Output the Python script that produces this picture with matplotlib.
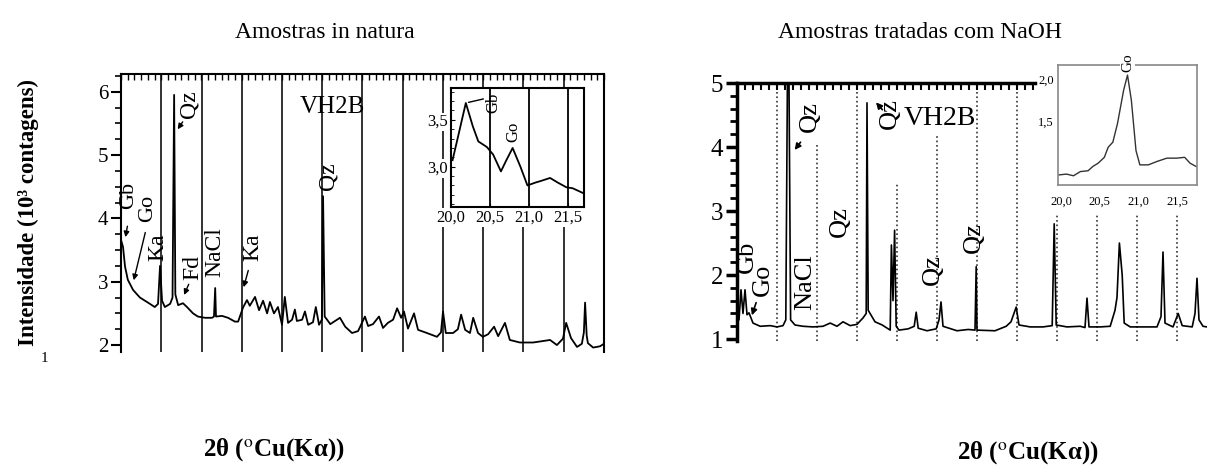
import numpy as np
import matplotlib
matplotlib.use('Agg')
import matplotlib.pyplot as plt
from matplotlib.ticker import MultipleLocator, FixedLocator

plt.rcParams['font.family'] = ['Liberation Serif', 'DejaVu Serif']
plt.rcParams['mathtext.fontset'] = 'stix'

# Amostras in natura (eixo x em divisoes da grade, y em 10^3 contagens)
x_nat = [0.00, 0.05, 0.10, 0.17, 0.30, 0.47, 0.67, 0.84, 0.92, 0.97, 1.02, 1.09, 1.22, 1.28, 1.32, 1.35,
         1.42, 1.54, 1.64, 1.79, 1.91, 2.09, 2.26, 2.31, 2.34, 2.36, 2.51, 2.66, 2.83, 2.91, 3.03, 3.13,
         3.20, 3.33, 3.43, 3.53, 3.63, 3.70, 3.80, 3.90, 4.00, 4.07, 4.15, 4.25, 4.32, 4.37, 4.50, 4.57,
         4.65, 4.77, 4.84, 4.92, 4.99, 5.02, 5.06, 5.12, 5.20, 5.27, 5.44, 5.57, 5.74, 5.89, 6.06, 6.14,
         6.26, 6.41, 6.51, 6.63, 6.76, 6.86, 6.96, 7.03, 7.13, 7.28, 7.38, 7.60, 7.85, 7.95, 8.00, 8.07,
         8.25, 8.37, 8.45, 8.55, 8.67, 8.75, 8.87, 8.99, 9.12, 9.27, 9.37, 9.54, 9.66, 9.91, 10.24, 10.66,
         10.83, 10.98, 11.06, 11.18, 11.33, 11.45, 11.50, 11.53, 11.57, 11.60, 11.73, 11.90, 12.00]
y_nat = [3.66, 3.55, 3.24, 3.03, 2.87, 2.75, 2.67, 2.60, 2.65, 3.25, 2.70, 2.60, 2.65, 2.75, 5.95, 2.80,
         2.63, 2.66, 2.60, 2.50, 2.45, 2.43, 2.43, 2.45, 2.90, 2.45, 2.46, 2.43, 2.37, 2.37, 2.59, 2.71,
         2.62, 2.76, 2.55, 2.70, 2.50, 2.68, 2.50, 2.60, 2.32, 2.76, 2.35, 2.40, 2.56, 2.38, 2.40, 2.53,
         2.32, 2.36, 2.60, 2.32, 2.40, 4.35, 2.45, 2.40, 2.33, 2.36, 2.43, 2.29, 2.19, 2.22, 2.45, 2.30,
         2.33, 2.45, 2.27, 2.35, 2.40, 2.58, 2.43, 2.53, 2.26, 2.50, 2.24, 2.19, 2.13, 2.20, 2.53, 2.19,
         2.19, 2.25, 2.48, 2.24, 2.19, 2.43, 2.19, 2.13, 2.17, 2.29, 2.14, 2.35, 2.08, 2.04, 2.04, 2.08,
         2.00, 2.10, 2.35, 2.11, 1.97, 2.02, 2.20, 2.67, 2.15, 2.03, 1.96, 1.98, 2.02]

# detalhe 20-21,7 (in natura)
x_nat_ins = [20.02, 20.09, 20.19, 20.28, 20.35, 20.46, 20.54, 20.64, 20.71, 20.79, 20.89, 20.98,
             21.08, 21.16, 21.27, 21.37, 21.48, 21.56, 21.69]
y_nat_ins = [3.07, 3.32, 3.68, 3.43, 3.27, 3.21, 3.13, 2.95, 3.07, 3.20, 3.00, 2.80,
             2.83, 2.85, 2.88, 2.83, 2.78, 2.77, 2.72]

# Amostras tratadas com NaOH
x_naoh = [0.00, 0.05, 0.10, 0.15, 0.20, 0.25, 0.30, 0.40, 0.58, 0.83, 1.00, 1.15, 1.22, 1.26, 1.30, 1.34,
          1.45, 1.65, 1.90, 2.15, 2.33, 2.50, 2.65, 2.83, 3.00, 3.15, 3.23, 3.25, 3.28, 3.45, 3.63, 3.83,
          3.86, 3.90, 3.94, 3.98, 4.05, 4.28, 4.43, 4.48, 4.53, 4.75, 4.98, 5.05, 5.10, 5.15, 5.50, 5.78,
          5.95, 5.98, 6.00, 6.45, 6.73, 6.85, 6.98, 7.05, 7.33, 7.65, 7.88, 7.93, 7.98, 8.25, 8.58, 8.70,
          8.75, 8.80, 9.08, 9.33, 9.45, 9.50, 9.56, 9.63, 9.68, 9.83, 10.15, 10.50, 10.60, 10.65, 10.70,
          10.90, 11.03, 11.13, 11.38, 11.45, 11.50, 11.55, 11.65, 11.75]
y_naoh = [1.30, 1.30, 1.77, 1.40, 1.77, 1.38, 1.41, 1.25, 1.20, 1.21, 1.19, 1.21, 1.30, 5.00, 5.00, 1.30,
          1.22, 1.20, 1.19, 1.20, 1.25, 1.20, 1.27, 1.21, 1.23, 1.33, 1.40, 4.69, 1.45, 1.27, 1.22, 1.14,
          2.47, 1.60, 2.70, 1.20, 1.14, 1.16, 1.20, 1.42, 1.17, 1.13, 1.16, 1.30, 1.58, 1.20, 1.13, 1.15,
          1.14, 2.13, 1.14, 1.13, 1.20, 1.27, 1.50, 1.22, 1.19, 1.19, 1.21, 2.80, 1.22, 1.19, 1.20, 1.18,
          1.64, 1.19, 1.19, 1.20, 1.45, 1.65, 2.50, 2.00, 1.25, 1.19, 1.19, 1.19, 1.35, 2.36, 1.25,
          1.19, 1.40, 1.21, 1.19, 1.40, 1.95, 1.30, 1.20, 1.19]

# detalhe 20-21,7 (NaOH)
x_naoh_ins = [19.97, 20.07, 20.16, 20.25, 20.35, 20.41, 20.48, 20.56, 20.61, 20.67, 20.73, 20.81, 20.86,
              20.91, 20.97, 21.02, 21.13, 21.24, 21.37, 21.50, 21.60, 21.67, 21.75]
y_naoh_ins = [0.86, 0.87, 0.85, 0.90, 0.91, 0.96, 1.00, 1.07, 1.19, 1.25, 1.47, 1.87, 2.05,
              1.75, 1.15, 0.98, 0.98, 1.02, 1.06, 1.06, 1.07, 1.00, 0.96]

ins_ticks = [20.0, 20.5, 21.0, 21.5]
ins_labels = ['20,0', '20,5', '21,0', '21,5']

# rotulos das fases: (texto, x, y, tamanho)
lab_nat = [('Gb', 0.20, 4.36, 16), ('Go', 0.66, 4.15, 16), ('Ka', 0.92, 3.54, 17), ('Qz', 1.69, 5.80, 17),
           ('Fd', 1.79, 3.22, 17), ('NaCl', 2.34, 3.47, 17), ('Ka', 3.28, 3.54, 17), ('Qz', 5.14, 4.66, 17)]
arr_nat = [((0.10, 3.66), (0.17, 3.92)), ((0.30, 2.98), (0.62, 3.82)), ((1.37, 5.37), (1.57, 5.56)),
           ((1.54, 2.75), (1.71, 3.00)), ((3.03, 2.87), (3.18, 3.22))]
lab_naoh = [('Gb', 0.25, 2.28), ('Go', 0.65, 1.92), ('NaCl', 1.70, 1.89), ('Qz', 1.83, 4.47),
            ('Qz', 2.58, 2.83), ('Qz', 3.83, 4.53), ('Qz', 4.90, 2.08), ('Qz', 5.93, 2.58)]
arr_naoh = [((0.35, 1.33), (0.50, 1.61)), ((1.40, 3.92), (1.63, 4.11)), ((3.43, 4.73), (3.68, 4.55))]

grid_nat = np.arange(1, 12)
grid_naoh = np.arange(1, 12)
grid_naoh_top = [5.0, 4.03, 5.0, 3.45, 4.2, 4.95, 5.0, 2.97, 2.97, 2.97, 2.97]

W, H = 1207, 466
fig = plt.figure(figsize=(W / 100, H / 100), dpi=100)

# ---- painel esquerdo
ax1 = fig.add_axes([121 / W, 1 - 352 / H, 483 / W, 278 / H])
for u in grid_nat:
    ax1.axvline(u, color='#222', lw=1.3, zorder=1)
ax1.plot(x_nat, y_nat, color='k', lw=1.3, zorder=2)
ax1.set_xlim(0, 12)
ax1.set_ylim(1.89, 6.28)
ax1.spines['bottom'].set_visible(False)
for s in ['top', 'left', 'right']:
    ax1.spines[s].set_linewidth(1.5)
ax1.set_yticks([2, 3, 4, 5, 6])
ax1.yaxis.set_minor_locator(MultipleLocator(0.25))
ax1.tick_params(axis='y', which='major', direction='out', length=7, width=1.5, labelsize=15, pad=2)
ax1.tick_params(axis='y', which='minor', direction='out', length=4, width=1.2)
ax1.xaxis.set_major_locator(FixedLocator([]))
ax1.xaxis.set_minor_locator(MultipleLocator(1 / 6))
ax1.tick_params(axis='x', which='minor', top=True, bottom=False, direction='in', length=4, width=1)
ax1.tick_params(axis='x', labelbottom=False)
for t, x, y, fs in lab_nat:
    ax1.text(x, y, t, rotation=90, ha='center', va='center', fontsize=fs, zorder=3)
for tip, tail in arr_nat:
    ax1.annotate('', xy=tip, xytext=tail,
                 arrowprops=dict(arrowstyle='-|>', color='k', lw=1, mutation_scale=8))
ax1.text(5.24, 5.76, 'VH2B', ha='center', va='center', fontsize=18)

ins1 = fig.add_axes([451 / W, 1 - 207 / H, 133 / W, 119 / H])
for u in ins_ticks[1:]:
    ins1.axvline(u, color='k', lw=1.3)
ins1.plot(x_nat_ins, y_nat_ins, color='k', lw=1.3)
ins1.set_xlim(20.0, 21.705)
ins1.set_ylim(2.57, 3.84)
ins1.set_xticks(ins_ticks, ins_labels)
ins1.set_yticks([3.0, 3.5], ['3,0', '3,5'])
ins1.yaxis.set_minor_locator(MultipleLocator(0.1))
ins1.tick_params(labelsize=12, length=3, direction='in', pad=2)
ins1.tick_params(axis='y', which='minor', direction='in', length=2)
for s in ins1.spines.values():
    s.set_linewidth(1.5)
for lb in ins1.get_xticklabels() + ins1.get_yticklabels():
    lb.set_bbox(dict(facecolor='white', edgecolor='none', pad=1))
ins1.annotate('', xy=(20.19, 3.68), xytext=(20.45, 3.73),
              arrowprops=dict(arrowstyle='-', color='k', lw=1))
ins1.text(20.54, 3.68, 'Gb', rotation=90, ha='center', va='center', fontsize=12)
ins1.text(20.80, 3.37, 'Go', rotation=90, ha='center', va='center', fontsize=12)

# ---- painel direito
ax2 = fig.add_axes([737 / W, 1 - 341 / H, 470 / W, 258 / H])
for u, top in zip(grid_naoh, grid_naoh_top):
    ax2.plot([u, u], [0.97, top], ls=':', color='#333', lw=1.2, zorder=1)
ax2.plot(x_naoh, y_naoh, color='k', lw=1.2, zorder=2)
ax2.set_xlim(0, 11.75)
ax2.set_ylim(0.97, 5.0)
ax2.spines['bottom'].set_visible(False)
ax2.spines['right'].set_visible(False)
ax2.spines['left'].set_linewidth(2.5)
ax2.spines['top'].set_linewidth(2.5)
ax2.spines['top'].set_bounds(0, 7.45)
ax2.set_yticks([1, 2, 3, 4, 5])
ax2.yaxis.set_minor_locator(MultipleLocator(0.2))
ax2.tick_params(axis='y', which='major', direction='out', length=8, width=2.5, labelsize=18, pad=2)
ax2.tick_params(axis='y', which='minor', direction='out', length=5, width=2)
ax2.xaxis.set_major_locator(FixedLocator([]))
ax2.xaxis.set_minor_locator(FixedLocator(np.arange(0.2, 7.45, 0.2)))
ax2.tick_params(axis='x', which='minor', top=True, bottom=False, direction='in', length=5, width=1.5)
ax2.tick_params(axis='x', labelbottom=False)
for t, x, y in lab_naoh:
    ax2.text(x, y, t, rotation=90, ha='center', va='center', fontsize=19, zorder=3)
for tip, tail in arr_naoh:
    ax2.annotate('', xy=tip, xytext=tail,
                 arrowprops=dict(arrowstyle='-|>', color='k', lw=1.2, mutation_scale=9))
ax2.text(5.08, 4.45, 'VH2B', ha='center', va='center', fontsize=20)

ins2 = fig.add_axes([1058 / W, 1 - 185 / H, 139 / W, 120 / H])
ins2.plot(x_naoh_ins, y_naoh_ins, color='#333', lw=1)
ins2.set_xlim(19.96, 21.76)
ins2.set_ylim(0.74, 2.17)
ins2.set_xticks(ins_ticks, ins_labels)
ins2.set_yticks([1.5, 2.0], ['1,5', '2,0'])
ins2.tick_params(labelsize=9, length=0, pad=8)
ins2.tick_params(axis='y', pad=3)
for s in ins2.spines.values():
    s.set_color('#888')
    s.set_linewidth(1.2)
ins2.text(20.86, 2.2, 'Go', rotation=90, ha='center', va='center', fontsize=11, clip_on=False,
          bbox=dict(facecolor='white', edgecolor='none', pad=0.5))

# ---- textos da figura
fig.text(325 / W, 1 - 33 / H, 'Amostras in natura', ha='center', va='center', fontsize=17)
fig.text(920 / W, 1 - 33 / H, 'Amostras tratadas com NaOH', ha='center', va='center', fontsize=17)
fig.text(28 / W, 1 - 213 / H, 'Intensidade (10³ contagens)', rotation=90, ha='center', va='center',
         fontsize=16.5, fontweight='bold')
fig.text(44 / W, 1 - 358 / H, '1', ha='center', va='center', fontsize=11)
fig.text(274 / W, 1 - 450 / H, r'2θ ($^{\rm o}$Cu(Kα))', ha='center', va='center', fontsize=18,
         fontweight='bold')
fig.text(1028 / W, 1 - 453 / H, r'2θ ($^{\rm o}$Cu(Kα))', ha='center', va='center', fontsize=18,
         fontweight='bold')

fig.savefig('out.png', dpi=100)
